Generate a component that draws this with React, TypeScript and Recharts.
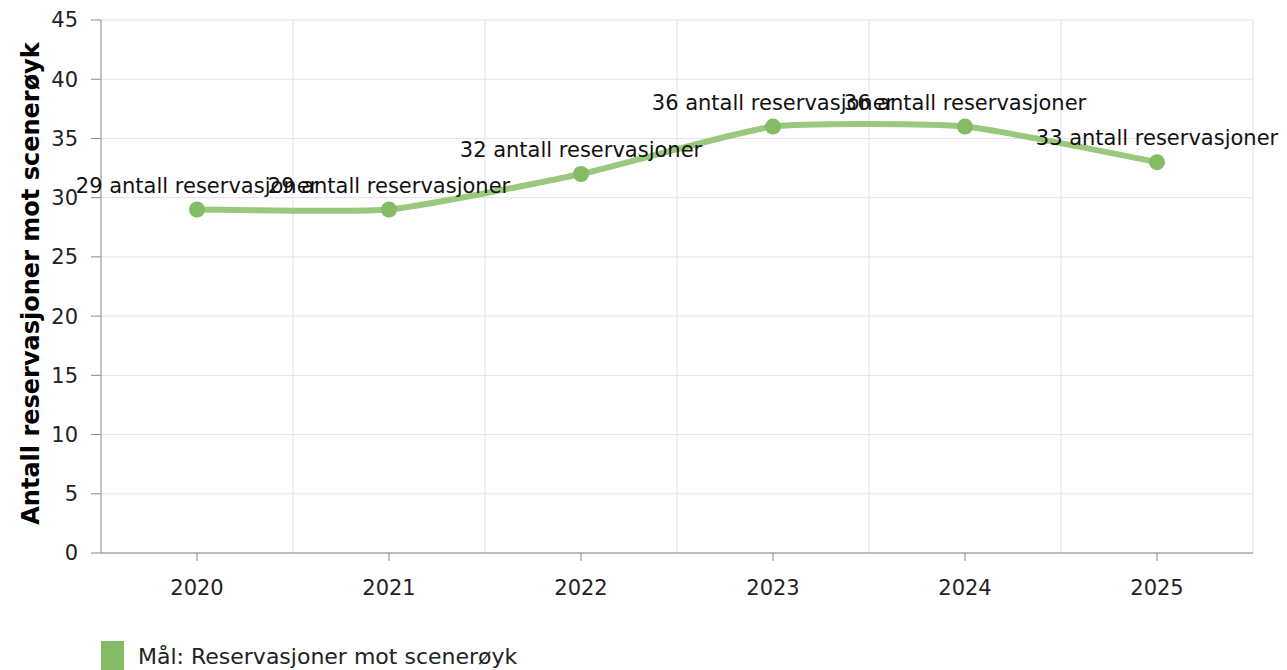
import { CartesianGrid, Legend, LabelList, Line, LineChart, XAxis, YAxis } from 'recharts';

document.body.style.margin = '0';

const years = ['2020', '2021', '2022', '2023', '2024', '2025'];
const reservations = [29, 29, 32, 36, 36, 33];
const yTicks = [0, 5, 10, 15, 20, 25, 30, 35, 40, 45];

const data = years.map((year, i) => ({ year, value: reservations[i] }));

const FONT = 'DejaVu Sans, Verdana, sans-serif';
const GREEN = '#85bb65';

// cardinal spline, tension 0.5
function splineCurve(context: any) {
  let pts: Array<[number, number]> = [];
  return {
    areaStart() {},
    areaEnd() {},
    lineStart() {
      pts = [];
    },
    point(x: number, y: number) {
      pts.push([+x, +y]);
    },
    lineEnd() {
      if (!pts.length) return;
      const k = (1 - 0.5) / 6;
      const at = (i: number) => pts[Math.max(0, Math.min(pts.length - 1, i))];
      context.moveTo(pts[0][0], pts[0][1]);
      for (let i = 0; i < pts.length - 1; i++) {
        const p0 = at(i - 1);
        const p1 = at(i);
        const p2 = at(i + 1);
        const p3 = at(i + 2);
        context.bezierCurveTo(
          p1[0] + (p2[0] - p0[0]) * k,
          p1[1] + (p2[1] - p0[1]) * k,
          p2[0] - (p3[0] - p1[0]) * k,
          p2[1] - (p3[1] - p1[1]) * k,
          p2[0],
          p2[1]
        );
      }
    },
  };
}

const renderLegend = () => (
  <div style={{ display: 'flex', alignItems: 'flex-start', fontFamily: FONT, fontSize: 22, color: '#222' }}>
    <span style={{ display: 'inline-block', width: 23, height: 30, background: GREEN, marginRight: 14 }} />
    <span style={{ marginTop: 3 }}>Mål: Reservasjoner mot scenerøyk</span>
  </div>
);

export default function App() {
  return (
    <LineChart width={1287} height={670} data={data} margin={{ top: 20, right: 34, bottom: 0, left: 0 }}>
      <CartesianGrid
        stroke="#e3e3e3"
        verticalCoordinatesGenerator={({ offset }: any) =>
          years.map((_, i) => offset.left + (offset.width * (i + 1)) / years.length)
        }
      />
      <XAxis
        dataKey="year"
        padding={{ left: 96, right: 96 }}
        height={87}
        stroke="#888"
        tickSize={8}
        tickMargin={19}
        tick={{ fill: '#222', fontSize: 21, fontFamily: FONT }}
      />
      <YAxis
        domain={[0, 45]}
        ticks={yTicks}
        width={101}
        stroke="#888"
        tickSize={10}
        tickMargin={13}
        tick={{ fill: '#222', fontSize: 21, fontFamily: FONT }}
        label={{
          value: 'Antall reservasjoner mot scenerøyk',
          angle: -90,
          position: 'insideLeft',
          offset: 30,
          dy: -3,
          style: { textAnchor: 'middle', fontSize: 24, fontWeight: 'bold', fontFamily: FONT, fill: '#000' },
        }}
      />
      <Legend
        verticalAlign="bottom"
        align="left"
        content={renderLegend}
        wrapperStyle={{ left: 101, top: 641, width: 700 }}
      />
      <Line
        dataKey="value"
        type={splineCurve as any}
        stroke="#9ac87d"
        strokeWidth={6}
        dot={{ r: 8, fill: GREEN, stroke: GREEN, strokeWidth: 0 }}
        activeDot={false}
        isAnimationActive={false}
      >
        <LabelList
          dataKey="value"
          position="top"
          offset={17}
          formatter={(v: any) => `${v} antall reservasjoner`}
          style={{ fill: '#111', fontSize: 21, fontFamily: FONT }}
        />
      </Line>
    </LineChart>
  );
}
